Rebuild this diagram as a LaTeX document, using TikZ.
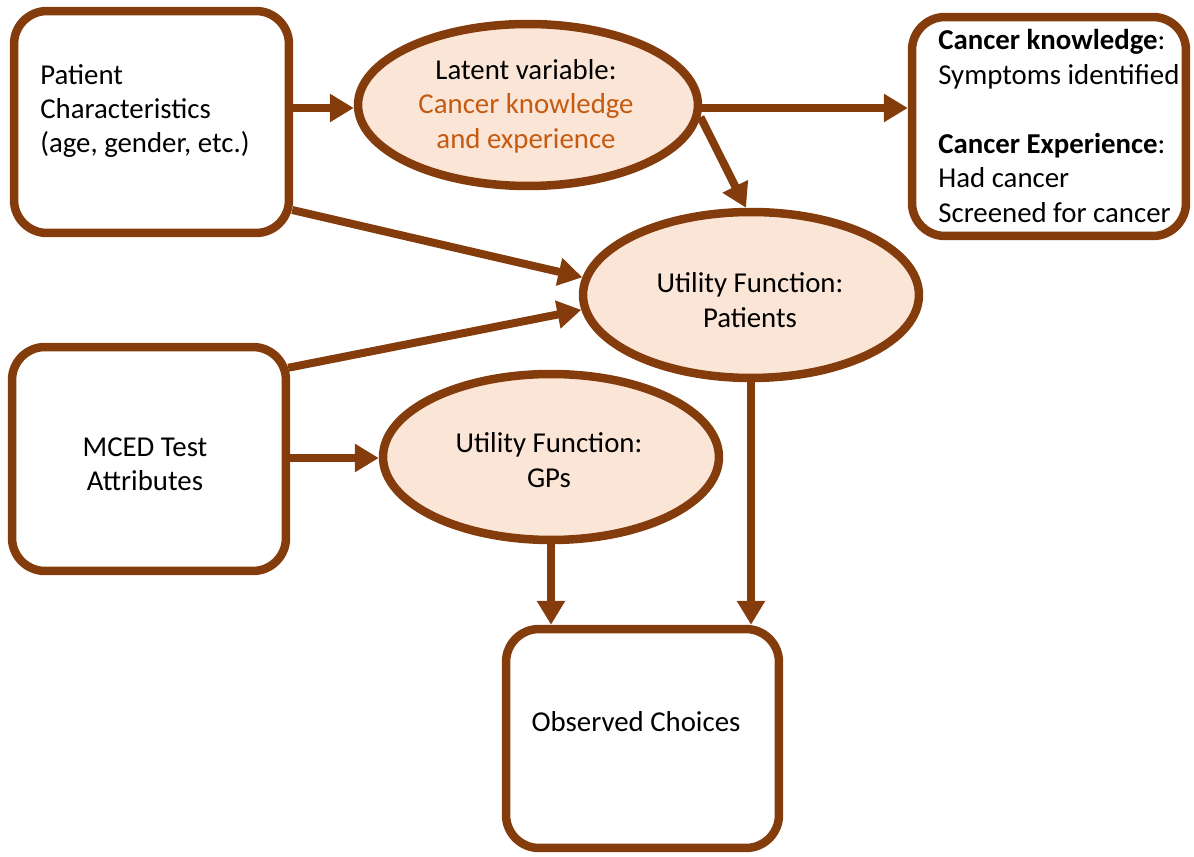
\documentclass[tikz,border=0pt]{standalone}
\usepackage{fontspec}
\setmainfont{Carlito}
\usetikzlibrary{arrows.meta,shapes.geometric,calc}
\definecolor{brd}{HTML}{843C0C}
\definecolor{fillc}{HTML}{FBE5D6}
\definecolor{orng}{HTML}{C55A11}
\tikzset{
  boxnode/.style={draw=brd, line width=0.17cm, rounded corners=0.66cm, fill=white, inner sep=0pt},
  ellnode/.style={draw=brd, line width=0.17cm, ellipse, fill=fillc, inner sep=0pt},
  txt/.style={inner sep=0pt, font=\fontsize{16.4}{19.6}\selectfont, text=black},
  conn/.style={draw=brd, line width=0.16cm, -{Triangle[length=0.48cm,width=0.54cm]}},
}
\begin{document}
\begin{tikzpicture}[x=0.02cm,y=-0.02cm]
\useasboundingbox (0,0) rectangle (1194,857);
% shapes
\node[boxnode, minimum width=5.5cm, minimum height=4.44cm] (box1) at (151.5,122) {};
\node[boxnode, minimum width=5.48cm, minimum height=4.38cm] (rbox) at (1049,126.5) {};
\node[boxnode, minimum width=5.48cm, minimum height=4.48cm] (mced) at (149,459) {};
\node[boxnode, minimum width=5.46cm, minimum height=4.38cm] (obs) at (642.5,738.5) {};
\node[ellnode, minimum width=6.8cm, minimum height=3.24cm] (lat) at (528,105) {};
\node[ellnode, minimum width=6.72cm, minimum height=3.32cm] (util) at (751,295) {};
\node[ellnode, minimum width=6.72cm, minimum height=3.32cm] (gps) at (551,457) {};
% texts
\node[txt, anchor=west, align=left] (t1) at (40,111) {Patient\\Characteristics\\(age, gender, etc.)};
\node[txt, align=center] (t2) at (526,106) {Latent variable:\\\textcolor{orng}{Cancer knowledge}\\\textcolor{orng}{and experience}};
\node[txt, anchor=west, align=left] (t3) at (938,126) {\textbf{Cancer knowledge}:\\Symptoms identified\\[\baselineskip]\textbf{Cancer Experience}:\\Had cancer\\Screened for cancer};
\node[txt, align=center] (t4) at (750,300) {Utility Function:\\Patients};
\node[txt, align=center] (t5) at (145,464) {MCED Test\\Attributes};
\node[txt, align=center] (t6) at (549,460) {Utility Function:\\GPs};
\node[txt] (t7) at (636,722) {Observed Choices};
% connectors
\coordinate (c1) at ($(box1.east)+(0,-14)$);
\draw[conn] (c1) -- (lat.west |- c1);
\coordinate (c2) at ($(lat.east)+(-4,3)$);
\draw[conn] (c2) -- (rbox.west |- c2);
\draw[conn] (lat.-4) -- ($(util.north)+(-5,0)$);
\coordinate (c3) at ($(box1.east)+(-1,88)$);
\draw[conn] (c3) -- (util.174);
\coordinate (c4) at ($(mced.north east)+(-2,25)$);
\draw[conn] (c4) -- (util.185);
\coordinate (c5) at ($(mced.east)+(0,-1)$);
\draw[conn] (c5) -- (gps.west |- c5);
\draw[conn] (gps.south) -- (obs.north -| gps.south);
\draw[conn] (util.south) -- (obs.north -| util.south);
\end{tikzpicture}
\end{document}
